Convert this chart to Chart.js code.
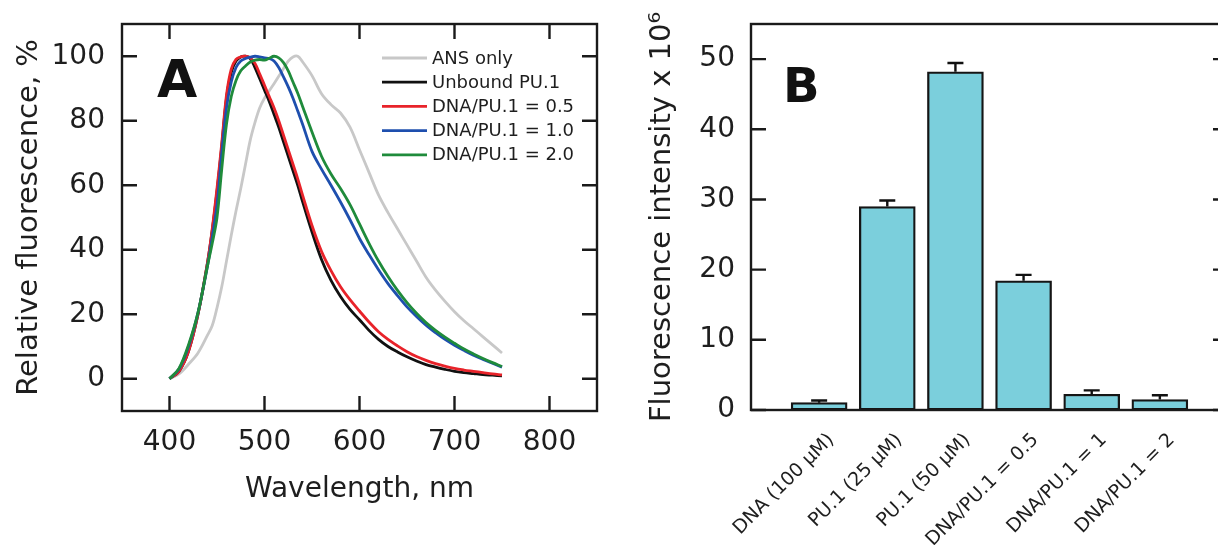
<!DOCTYPE html>
<html><head><meta charset="utf-8">
<script src="https://cdn.jsdelivr.net/npm/chart.js@4.4.1/dist/chart.umd.min.js"></script>
<style>
html,body{margin:0;padding:0;background:#fff;overflow:hidden;width:1218px;height:545px;}
#wrapA{position:absolute;left:0;top:0;width:610px;height:545px;}
#wrapB{position:absolute;left:610px;top:0;width:630px;height:545px;}
canvas{display:block;}
</style></head><body>
<div id="wrapA"><canvas id="chartA" width="610" height="545"></canvas></div>
<div id="wrapB"><canvas id="chartB" width="630" height="545"></canvas></div>
<script>
// ---------- Panel A data ----------
const wavelengths = [400,410,420,430,440,445,450,455,460,465,470,475,480,485,490,495,500,505,510,515,520,525,530,535,540,550,560,570,580,590,600,610,620,630,640,650,660,670,680,690,700,710,720,730,740,750];
const ansOnly     = [0,1.5,4.5,8,13.5,16.5,22,28.5,36.5,44.5,52,59,66.5,74,79.5,84,87,89.3,91.5,93.8,96.2,98.5,99.8,100,98.3,94,88.4,85,82.4,78,71,64,57,51.5,46.5,41.5,36.5,31.5,27.5,24,20.8,18,15.5,13,10.5,8];
const unboundPU1  = [0,2.3,8.5,20,36,46,58,72,87,95,98.5,99.8,100,99.3,96.5,93,89.5,86,82,78,73.5,69,64.5,60,55,45.5,37,30.5,25.5,21.5,18.3,15,12.2,10,8.3,6.8,5.5,4.4,3.6,2.9,2.3,1.9,1.6,1.3,1.1,0.9];
const ratio05     = [0,2.3,8.5,20,36,46.5,59,73,88,96,99,99.8,100,99.5,97.8,94.5,91,87.5,84,80,75.5,71,66.5,62,57,47.5,39.5,33.5,28.5,24.5,21,17.6,14.6,12.2,10.2,8.4,6.9,5.7,4.7,3.9,3.2,2.7,2.3,1.9,1.5,1.2];
const ratio10     = [0,3,10,20.5,35,44,54,70,84,92,96.5,98.5,99.3,99.7,100,99.8,99.5,99.3,98.5,96.5,93.6,90.5,87,83,79,70.5,65,60,54.8,49.3,43.5,38.5,33.8,29.5,25.8,22.3,19.3,16.6,14.3,12.2,10.4,8.8,7.3,6,4.8,3.6];
const ratio20     = [0,3.2,10.5,20.5,35,42,50,65,79,87.5,92.5,95.5,97,98.2,98.8,99,98.8,99.4,100,99.5,98,95.5,92,88.5,84.5,76.5,69,63.5,59,54,48,42,36.5,31.7,27.4,23.6,20.3,17.4,15,12.9,11,9.2,7.7,6.3,5,3.8];
const seriesNames  = ['ANS only','Unbound PU.1','DNA/PU.1 = 0.5','DNA/PU.1 = 1.0','DNA/PU.1 = 2.0'];
const seriesColors = ['#c8c8c8','#111111','#e8232a','#1e4fae','#1f8b3b'];
const xTicksA = [400,500,600,700,800];
const yTicksA = [0,20,40,60,80,100];

// ---------- Panel B data ----------
const barCategories = ['DNA (100 μM)','PU.1 (25 μM)','PU.1 (50 μM)','DNA/PU.1 = 0.5','DNA/PU.1 = 1','DNA/PU.1 = 2'];
const barValues = [1.05, 29.0, 48.2, 18.4, 2.25, 1.5];
const barErrors = [0.3, 0.85, 1.25, 0.85, 0.55, 0.6];
const yTicksB = [0,10,20,30,40,50];

const FONT = "'DejaVu Sans', sans-serif";
const TXT = '#1e1e1e';

const frameTicks = {
  id: 'frameTicks',
  afterDatasetsDraw(chart, args, o) {
    const {ctx, chartArea: {left, right, top, bottom}, scales: {x, y}} = chart;
    ctx.save();
    ctx.strokeStyle = '#1a1a1a';
    ctx.lineWidth = 2.4;
    ctx.beginPath();
    const L = o.len;
    (o.yTicks || []).forEach(v => {
      const py = y.getPixelForValue(v);
      ctx.moveTo(left, py); ctx.lineTo(left + L, py);
      ctx.moveTo(right, py); ctx.lineTo(right - L, py);
    });
    (o.xTicks || []).forEach(v => {
      const px = x.getPixelForValue(v);
      ctx.moveTo(px, bottom); ctx.lineTo(px, bottom - L);
      ctx.moveTo(px, top); ctx.lineTo(px, top + L);
    });
    ctx.stroke();
    ctx.strokeRect(left, top, right - left, bottom - top);
    ctx.restore();
  }
};

const panelLabel = {
  id: 'panelLabel',
  afterDraw(chart, args, o) {
    const ctx = chart.ctx;
    ctx.save();
    ctx.fillStyle = '#111';
    ctx.font = `bold ${o.size}px ${FONT}`;
    ctx.textBaseline = 'alphabetic';
    ctx.textAlign = 'left';
    ctx.fillText(o.text, o.x, o.y);
    ctx.restore();
  }
};

const insideLegend = {
  id: 'insideLegend',
  afterDraw(chart, args, o) {
    const ctx = chart.ctx;
    ctx.save();
    ctx.font = `${o.size}px ${FONT}`;
    ctx.textBaseline = 'middle';
    ctx.fillStyle = TXT;
    chart.data.datasets.forEach((ds, i) => {
      const yy = o.y + i * o.step;
      ctx.strokeStyle = ds.borderColor;
      ctx.lineWidth = 2.8;
      ctx.beginPath(); ctx.moveTo(o.x1, yy); ctx.lineTo(o.x2, yy); ctx.stroke();
      ctx.fillText(ds.label, o.tx, yy + 1);
    });
    ctx.restore();
  }
};

const errorBars = {
  id: 'errorBars',
  afterDatasetsDraw(chart, args, o) {
    const {ctx, scales: {x, y}} = chart;
    ctx.save();
    ctx.strokeStyle = '#111';
    ctx.lineWidth = 2.4;
    ctx.beginPath();
    barValues.forEach((v, i) => {
      const px = x.getPixelForValue(i + 1);
      const y0 = y.getPixelForValue(v);
      const y1 = y.getPixelForValue(v + barErrors[i]);
      ctx.moveTo(px, y0); ctx.lineTo(px, y1);
      ctx.moveTo(px - o.cap / 2, y1); ctx.lineTo(px + o.cap / 2, y1);
    });
    ctx.stroke();
    ctx.restore();
  }
};

// ---------- Chart A ----------
const orders = [5, 4, 3, 2, 1];
const seriesData = [ansOnly, unboundPU1, ratio05, ratio10, ratio20];
new Chart(document.getElementById('chartA'), {
  type: 'line',
  data: {
    datasets: seriesNames.map((n, i) => ({
      label: n,
      data: wavelengths.map((w, j) => ({x: w, y: seriesData[i][j]})),
      borderColor: seriesColors[i],
      borderWidth: 2.8,
      pointRadius: 0,
      fill: false,
      tension: 0.35,
      order: orders[i]
    }))
  },
  options: {
    animation: false, responsive: false, devicePixelRatio: 1,
    layout: {padding: {left: 0, top: 24, right: 13, bottom: 0}},
    plugins: {
      legend: {display: false}, tooltip: {enabled: false},
      frameTicks: {len: 15, xTicks: xTicksA, yTicks: yTicksA},
      panelLabel: {text: 'A', size: 52, x: 157, y: 97},
      insideLegend: {size: 18, x1: 382, x2: 427, tx: 432, y: 58, step: 24.2}
    },
    scales: {
      x: {
        type: 'linear', min: 350, max: 850,
        afterBuildTicks: s => { s.ticks = xTicksA.map(v => ({value: v})); },
        afterFit: s => { s.height = 134; s.paddingLeft = 0; s.paddingRight = 0; },
        grid: {display: false, drawTicks: false}, border: {display: false},
        ticks: {color: TXT, font: {family: FONT, size: 28}, padding: 15, maxRotation: 0, autoSkip: false},
        title: {display: true, text: 'Wavelength, nm', color: TXT, font: {family: FONT, size: 28}, padding: {top: 0, bottom: 38}}
      },
      y: {
        type: 'linear', min: -10, max: 110,
        afterBuildTicks: s => { s.ticks = yTicksA.map(v => ({value: v})); },
        afterFit: s => { s.width = 122; s.paddingTop = 0; s.paddingBottom = 0; },
        grid: {display: false, drawTicks: false}, border: {display: false},
        ticks: {color: TXT, font: {family: FONT, size: 28}, padding: 17},
        title: {display: true, text: 'Relative fluorescence, %', color: TXT, font: {family: FONT, size: 29}, padding: {top: 12, bottom: 0}}
      }
    }
  },
  plugins: [frameTicks, panelLabel, insideLegend]
});

// ---------- Chart B ----------
new Chart(document.getElementById('chartB'), {
  type: 'bar',
  data: {
    datasets: [{
      label: 'Fluorescence intensity',
      data: barValues.map((v, i) => ({x: i + 1, y: v})),
      backgroundColor: '#7bcfdc',
      borderColor: '#151515',
      borderWidth: 2.3,
      borderSkipped: false,
      barThickness: 56
    }]
  },
  options: {
    animation: false, responsive: false, devicePixelRatio: 1,
    layout: {padding: {left: 0, top: 24, right: 12, bottom: 0}},
    plugins: {
      legend: {display: false}, tooltip: {enabled: false},
      frameTicks: {len: 15, yTicks: yTicksB},
      errorBars: {cap: 16},
      panelLabel: {text: 'B', size: 48, x: 173, y: 102}
    },
    scales: {
      x: {
        type: 'linear', min: 0, max: 7, offset: false,
        afterBuildTicks: s => { s.ticks = barCategories.map((c, i) => ({value: i + 1})); },
        afterFit: s => { s.height = 135; s.paddingLeft = 0; s.paddingRight = 0; },
        grid: {display: false, drawTicks: false}, border: {display: false},
        ticks: {
          color: TXT, font: {family: FONT, size: 19}, padding: 19, labelOffset: 12,
          minRotation: 45, maxRotation: 45, autoSkip: false,
          callback: v => barCategories[v - 1] ?? ''
        }
      },
      y: {
        type: 'linear', min: 0, max: 55,
        afterBuildTicks: s => { s.ticks = yTicksB.map(v => ({value: v})); },
        afterFit: s => { s.width = 141; s.paddingTop = 0; s.paddingBottom = 0; },
        grid: {display: false, drawTicks: false}, border: {display: false},
        ticks: {color: TXT, font: {family: FONT, size: 28}, padding: 16},
        title: {display: true, text: 'Fluorescence intensity x 10⁶', color: TXT, font: {family: FONT, size: 29}, padding: {top: 35, bottom: 0}}
      }
    }
  },
  plugins: [errorBars, frameTicks, panelLabel]
});
</script>
</body></html>
